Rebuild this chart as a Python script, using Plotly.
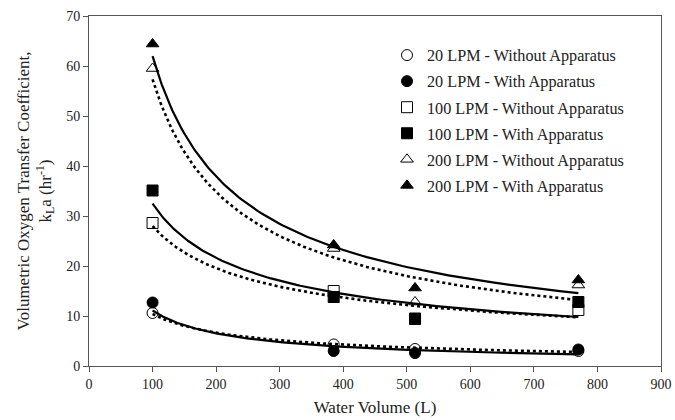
import numpy as np
import plotly.graph_objects as go

# Water volumes tested (L)
volume = [100, 385, 513, 770]

# Measured kLa (hr^-1) for each air flow rate, with and without the apparatus
kla_20_without = [10.6, 4.3, 3.4, 3.0]
kla_20_with = [12.7, 3.0, 2.6, 3.3]
kla_100_without = [28.6, 15.0, 9.5, 11.2]
kla_100_with = [35.1, 13.8, 9.4, 12.8]
kla_200_without = [59.5, 23.5, 12.8, 16.2]
kla_200_with = [64.4, 24.2, 15.6, 17.2]

series = [
    ("20 LPM - Without Apparatus", kla_20_without, "circle-open", "dot"),
    ("20 LPM - With Apparatus", kla_20_with, "circle", "solid"),
    ("100 LPM - Without Apparatus", kla_100_without, "square-open", "dot"),
    ("100 LPM - With Apparatus", kla_100_with, "square", "solid"),
    ("200 LPM - Without Apparatus", kla_200_without, "triangle-up-open", "dot"),
    ("200 LPM - With Apparatus", kla_200_with, "triangle-up", "solid"),
]

FONT = "Liberation Serif, Times New Roman, serif"

fig = go.Figure()

# Power-law trendlines (y = a * x^b) fitted on log-log scale
x_fit = np.geomspace(min(volume), max(volume), 120)
for name, vals, symbol, dash in series:
    b, ln_a = np.polyfit(np.log(volume), np.log(vals), 1)
    y_fit = np.exp(ln_a) * x_fit ** b
    fig.add_trace(go.Scatter(
        x=x_fit, y=y_fit, mode="lines", showlegend=False, hoverinfo="skip",
        line=dict(color="black", width=2.2 if dash == "solid" else 2.6, dash=dash),
    ))

# Measured points
for i, (name, vals, symbol, dash) in enumerate(series):
    fig.add_trace(go.Scatter(
        x=volume, y=vals, mode="markers", name=name, legendgroup=f"g{i}",
        marker=dict(symbol=symbol, size=11, color="black",
                    line=dict(color="black", width=1)),
    ))

axis_common = dict(
    showgrid=False, zeroline=False, showline=True, linecolor="#555555",
    linewidth=1, mirror=True, ticks="outside", ticklen=5, tickcolor="#555555",
    tickfont=dict(family=FONT, size=14, color="#222222"), automargin=False,
)

fig.update_layout(
    width=675, height=420,
    margin=dict(l=89, r=14, t=16, b=54, autoexpand=False),
    paper_bgcolor="white", plot_bgcolor="white",
    font=dict(family=FONT, color="#222222"),
    xaxis=dict(
        range=[0, 900], dtick=100,
        title=dict(text="Water Volume (L)", font=dict(family=FONT, size=17), standoff=10),
        **axis_common,
    ),
    yaxis=dict(
        range=[0, 70], dtick=10,
        title=dict(text="Volumetric Oxygen Transfer Coefficient,<br>k<sub>L</sub>a (hr<sup>-1</sup>)",
                   font=dict(family=FONT, size=17), standoff=10),
        **axis_common,
    ),
    legend=dict(
        x=0.521, y=0.937, xanchor="left", yanchor="top",
        font=dict(family=FONT, size=16.2, color="#222222"),
        bgcolor="rgba(0,0,0,0)", tracegroupgap=2, itemwidth=30,
    ),
    showlegend=True,
)

fig.write_html("out.html")
